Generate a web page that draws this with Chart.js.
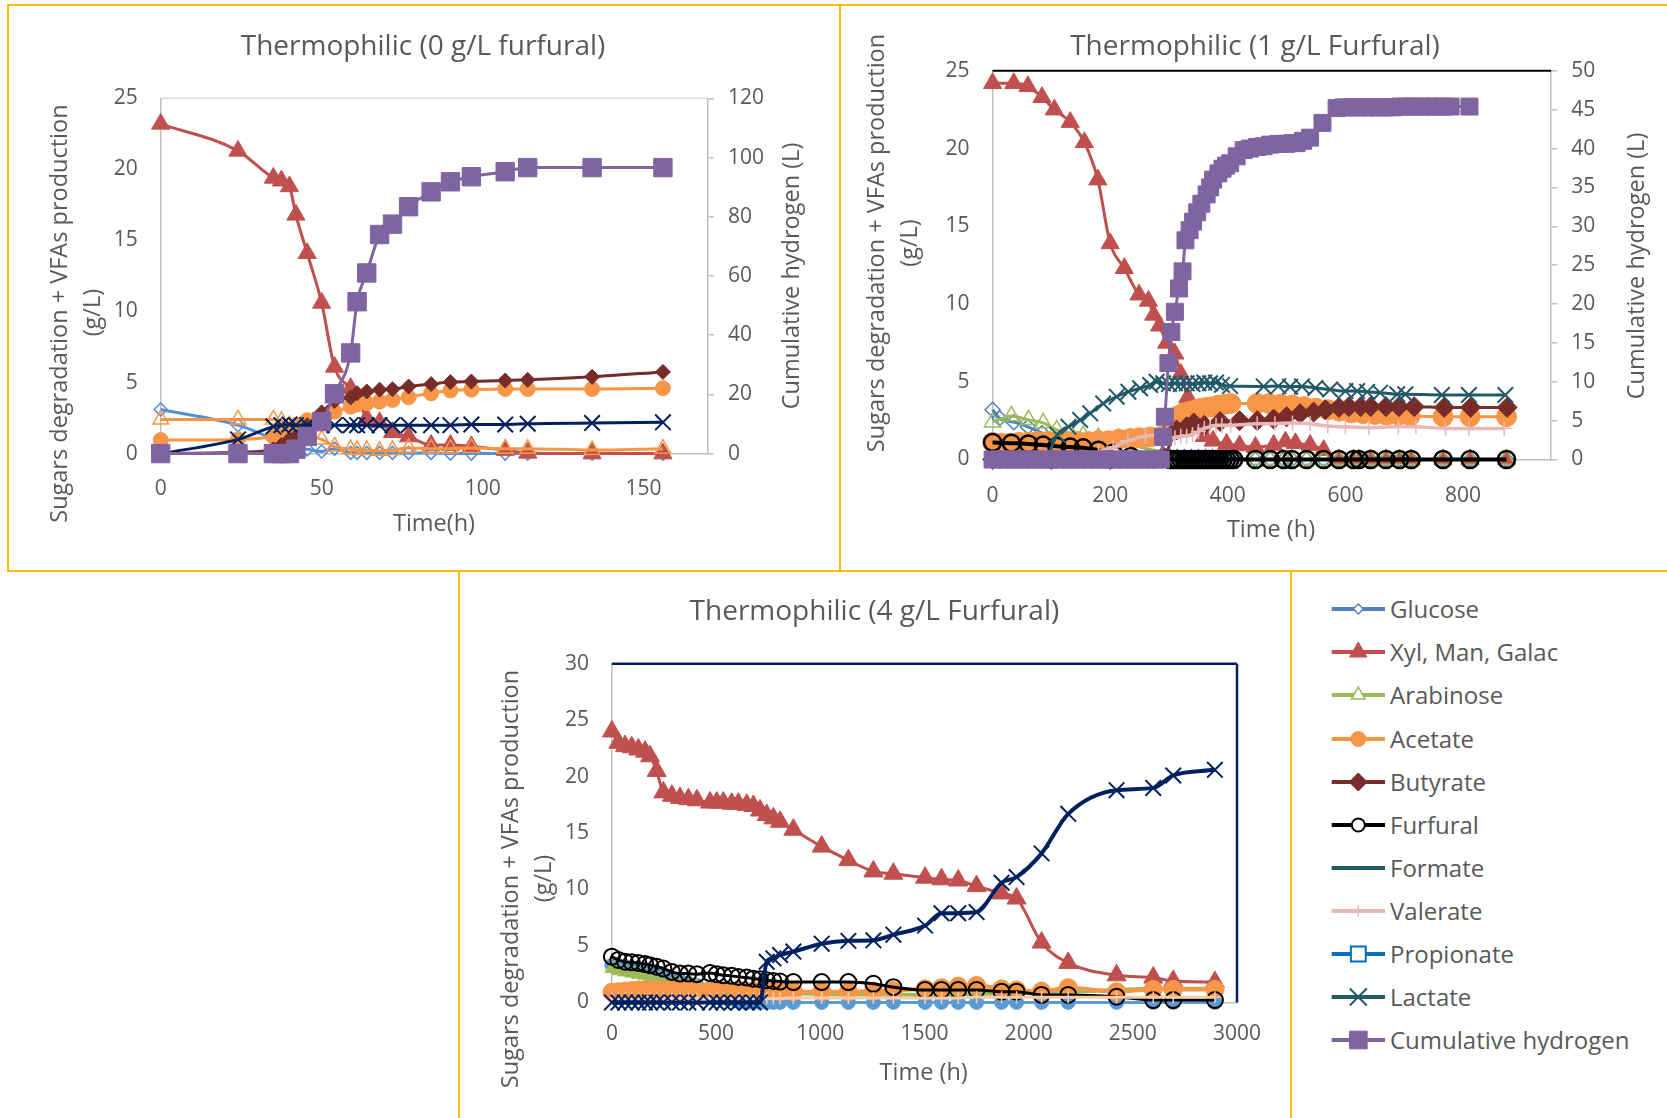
<!DOCTYPE html>
<html>
<head>
<meta charset="utf-8">
<script src="https://cdn.jsdelivr.net/npm/chart.js@4.4.1/dist/chart.umd.min.js"></script>
<style>
  html, body { margin: 0; padding: 0; background: #ffffff; }
  body { width: 1667px; height: 1118px; position: relative; overflow: hidden; font-family: 'Open Sans', sans-serif; }
  .box { position: absolute; border: 2px solid #FFC000; box-sizing: border-box; }
  canvas { position: absolute; }
  .li { position: absolute; left: 1328px; height: 36px; }
  .li canvas { position: absolute; left: 0; top: 0; }
  .li span { position: absolute; left: 62px; top: 0; line-height: 36px; font-size: 24px; color: #595959; white-space: nowrap; }
</style>
</head>
<body>
<div class="box" style="left:7px;top:4px;width:834px;height:568px;"></div>
<div class="box" style="left:839px;top:4px;width:840px;height:568px;"></div>
<div class="box" style="left:458px;top:570px;width:834px;height:560px;"></div>
<div class="box" style="left:1290px;top:570px;width:390px;height:560px;"></div>

<canvas id="c1" width="828" height="563" style="left:10px;top:7px;"></canvas>
<canvas id="c2" width="826" height="563" style="left:841px;top:7px;"></canvas>
<canvas id="c3" width="829" height="545" style="left:461px;top:573px;"></canvas>
<div id="legend"></div>

<script>
// ---------- Thermophilic, 0 g/L furfural ----------
const time1 = [0, 24, 35, 37.5, 40, 42, 45.5, 50, 54, 59, 61, 64, 68, 72, 77, 84, 90, 96.5, 107, 114, 134, 156];
const glucose1 = [3.1, 2.0, 1.0, 0.7, 0.5, 0.4, 0.3, 0.15, 0.35, 0.05, 0.05, 0.05, 0.05, 0.05, 0.05, 0.05, 0, 0, 0, 0, 0, 0];
const xyl1 = [23.2, 21.3, 19.4, 19.2, 18.8, 16.8, 14.1, 10.6, 6.1, 4.6, 4.0, 2.5, 2.2, 1.5, 1.2, 0.6, 0.6, 0.5, 0.25, 0.05, 0, 0];
const arabinose1 = [2.4, 2.4, 2.4, 2.3, 2.0, 1.6, 1.3, 1.0, 0.5, 0.3, 0.25, 0.25, 0.2, 0.25, 0.4, 0.35, 0.35, 0.4, 0.35, 0.35, 0.25, 0.35];
const acetate1 = [0.95, 1.0, 1.2, 1.4, 1.7, 2.0, 2.35, 2.6, 2.95, 3.3, 3.45, 3.55, 3.66, 3.78, 3.97, 4.25, 4.44, 4.5, 4.55, 4.55, 4.55, 4.6];
const butyrate1 = [0, 0.1, 0.3, 0.6, 1.0, 1.2, 2.0, 2.9, 3.7, 3.95, 4.25, 4.37, 4.5, 4.53, 4.72, 4.89, 5.03, 5.07, 5.14, 5.19, 5.4, 5.75];
const lactate1 = [0, 1.0, 1.9, 2.0, 2.05, 2.0, 2.0, 2.0, 2.0, 2.0, 2.0, 2.0, 2.0, 2.0, 2.0, 2.0, 2.0, 2.05, 2.05, 2.1, 2.15, 2.2];
const hydrogen1 = [0, 0, 0, 0, 0, 1.5, 5.8, 10.8, 20.2, 34, 51.3, 61, 74, 77.5, 83.4, 88.4, 91.8, 93.5, 95.2, 96.6, 96.6, 96.6];
const xTicks1 = [0, 50, 100, 150];
const yTicks1 = [0, 5, 10, 15, 20, 25];
const y2Ticks1 = [0, 20, 40, 60, 80, 100, 120];

// ---------- Thermophilic, 1 g/L furfural ----------
const glucoseTime2 = [0, 12, 36, 60, 84, 109, 150, 200, 250, 302, 314, 326, 338, 350, 362, 374, 386, 398, 410, 447, 472, 495, 509, 534, 563, 589, 614, 623, 643, 669, 692, 712, 766, 812, 874];
const glucose2 = [3.2, 2.65, 2.4, 2.1, 1.7, 1.2, 0.5, 0.1, 0, 0.15, 0.15, 0.15, 0.15, 0.15, 0.15, 0.15, 0.15, 0.15, 0.1, 0, 0, 0, 0, 0, 0, 0, 0, 0, 0, 0, 0, 0, 0, 0, 0];
const xylTime2 = [0, 36, 60, 84, 105, 132, 156, 179, 200, 224, 249, 265, 274, 284, 296, 310, 320, 332, 345, 360, 375, 398, 420, 447, 478, 498, 515, 540, 563, 589, 614, 623, 643, 669, 692, 712, 766, 812, 874];
const xyl2 = [24.2, 24.2, 24.0, 23.3, 22.5, 21.7, 20.4, 18.0, 13.9, 12.3, 10.6, 10.2, 9.3, 8.6, 7.5, 6.8, 5.5, 4.0, 2.2, 1.5, 1.2, 1.0, 0.9, 0.8, 0.93, 1.15, 1.04, 0.93, 0.6, 0, 0, 0, 0, 0, 0, 0, 0, 0, 0];
const arabinoseTime2 = [0, 32, 61, 86, 109, 132, 154, 180, 214, 250, 447, 472, 495, 509, 534, 563, 589, 614, 623, 643, 669, 692, 712, 766, 812, 874];
const arabinose2 = [2.4, 2.8, 2.55, 2.35, 1.9, 1.7, 1.55, 1.4, 1.35, 0.8, 0, 0, 0, 0, 0, 0, 0, 0, 0, 0, 0, 0, 0, 0, 0, 0];
const acetateTime2 = [0, 15, 30, 45, 60, 75, 92, 108, 126, 145, 163, 180, 197, 215, 234, 250, 268, 288, 305, 315, 325, 335, 345, 355, 365, 375, 385, 395, 405, 450, 470, 490, 510, 530, 550, 570, 590, 610, 630, 650, 670, 690, 710, 766, 812, 874];
const acetate2 = [1.1, 1.05, 1.05, 1.1, 1.1, 1.15, 1.15, 1.15, 1.15, 1.15, 1.15, 1.2, 1.2, 1.3, 1.35, 1.4, 1.45, 1.5, 2.5, 2.8, 3.0, 3.1, 3.2, 3.3, 3.35, 3.4, 3.5, 3.55, 3.6, 3.6, 3.6, 3.55, 3.5, 3.4, 3.3, 3.2, 3.1, 3.0, 2.95, 2.9, 2.85, 2.85, 2.8, 2.75, 2.75, 2.75];
const butyrateTime2 = [0, 100, 200, 290, 313, 330, 342, 360, 387, 420, 450, 478, 500, 523, 546, 566, 589, 606, 626, 643, 669, 691, 717, 768, 813, 875];
const butyrate2 = [0, 0, 0, 0.2, 1.9, 2.1, 2.35, 2.2, 2.45, 2.5, 2.5, 2.6, 2.75, 2.95, 3.05, 3.2, 3.35, 3.4, 3.4, 3.4, 3.4, 3.4, 3.4, 3.35, 3.35, 3.35];
const furfuralTime2 = [0, 32, 61, 86, 109, 132, 154, 180, 205, 235, 302, 308, 314, 320, 326, 332, 338, 344, 350, 356, 362, 368, 374, 380, 386, 392, 398, 404, 410, 447, 472, 495, 509, 534, 563, 589, 614, 623, 643, 669, 692, 712, 766, 812, 874];
const furfural2 = [1.1, 1.05, 1.0, 0.93, 0.85, 0.8, 0.75, 0.6, 0.4, 0.2, 0, 0, 0, 0, 0, 0, 0, 0, 0, 0, 0, 0, 0, 0, 0, 0, 0, 0, 0, 0, 0, 0, 0, 0, 0, 0, 0, 0, 0, 0, 0, 0, 0, 0, 0];
const valerateTime2 = [180, 205, 230, 260, 290, 300, 310, 320, 330, 340, 350, 360, 370, 380, 390, 405, 450, 480, 510, 540, 570, 600, 640, 690, 720, 770, 810, 870];
const valerate2 = [0.5, 0.8, 1.2, 1.5, 1.6, 1.4, 1.4, 1.5, 1.5, 1.6, 1.8, 2.0, 2.1, 2.2, 2.2, 2.2, 2.3, 2.3, 2.35, 2.3, 2.15, 2.1, 2.05, 2.1, 2.1, 2.0, 2.0, 2.0];
const lactateTime2 = [92, 110, 129, 149, 166, 188, 211, 231, 251, 268, 279, 290, 300, 310, 320, 330, 340, 350, 360, 370, 380, 390, 404, 461, 486, 506, 526, 549, 574, 600, 620, 637, 659, 688, 702, 764, 810, 872];
const lactate2 = [0, 1.6, 2.1, 2.54, 2.97, 3.6, 4.04, 4.36, 4.58, 4.79, 5.0, 4.9, 4.85, 4.9, 4.85, 4.9, 4.85, 4.9, 4.95, 4.9, 4.95, 4.8, 4.72, 4.7, 4.72, 4.68, 4.7, 4.6, 4.5, 4.4, 4.4, 4.35, 4.3, 4.2, 4.2, 4.15, 4.15, 4.15];
const hydrogenTime2 = [0, 12, 24, 36, 48, 60, 72, 84, 96, 108, 120, 132, 144, 156, 168, 180, 192, 204, 216, 228, 240, 252, 264, 276, 286, 290, 293, 299, 304, 310, 317, 323, 328, 335, 341, 348, 355, 364, 370, 375, 384, 391, 397, 404, 415, 427, 438, 450, 461, 472, 486, 499, 510, 517, 528, 540, 561, 585, 597, 609, 621, 633, 645, 657, 669, 681, 693, 705, 717, 729, 741, 753, 765, 779, 811];
const hydrogen2 = [0, 0, 0, 0, 0, 0, 0, 0, 0, 0, 0, 0, 0, 0, 0, 0, 0, 0, 0, 0, 0, 0, 0, 0, 0, 2.9, 5.5, 12.4, 16.4, 19.0, 22, 24.2, 28.2, 29.5, 30.6, 31.8, 32.9, 34.1, 35, 36, 36.8, 37.4, 37.8, 38.1, 39, 39.8, 40, 40.2, 40.3, 40.5, 40.6, 40.6, 40.7, 40.7, 41, 41.4, 43.3, 45.2, 45.3, 45.3, 45.3, 45.3, 45.3, 45.3, 45.3, 45.3, 45.4, 45.4, 45.4, 45.4, 45.4, 45.4, 45.4, 45.4, 45.4];
const xTicks2 = [0, 200, 400, 600, 800];
const yTicks2 = [0, 5, 10, 15, 20, 25];
const y2Ticks2 = [0, 5, 10, 15, 20, 25, 30, 35, 40, 45, 50];

// ---------- Thermophilic, 4 g/L furfural ----------
const time3 = [0, 31, 63, 95, 127, 159, 183, 215, 247, 288, 327, 367, 408, 471, 503, 535, 575, 607, 647, 679, 711, 743, 775, 807, 871, 1007, 1135, 1255, 1351, 1503, 1582, 1662, 1750, 1870, 1942, 2062, 2190, 2422, 2598, 2694, 2894];
const glucose3 = [3.3, 3.15, 3.05, 2.95, 2.85, 2.75, 2.6, 2.45, 2.3, 2.1, 1.9, 1.7, 1.5, 1.2, 0.9, 0.6, 0.3, 0.1, 0, 0, 0, 0, 0, 0, 0, 0, 0, 0, 0, 0, 0, 0, 0, 0, 0, 0, 0, 0, 0, 0, 0];
const xyl3 = [24.0, 23.0, 22.7, 22.6, 22.4, 22.2, 21.8, 20.5, 18.6, 18.3, 18.1, 18.0, 17.9, 17.7, 17.7, 17.7, 17.6, 17.6, 17.5, 17.4, 17.0, 16.6, 16.3, 16.0, 15.3, 13.8, 12.6, 11.6, 11.4, 11.05, 10.9, 10.8, 10.3, 9.65, 9.2, 5.3, 3.5, 2.4, 2.2, 1.9, 1.8];
const arabinose3 = [3.0, 2.8, 2.7, 2.6, 2.5, 2.4, 2.2, 2.0, 1.8, 1.7, 1.6, 1.5, 1.4, 1.3, 1.25, 1.2, 1.15, 1.1, 1.05, 1.0, 0.95, 0.9, 0.9, 0.85, 0.8, 0.75, 0.7, 0.7, 0.7, 0.65, 0.65, 0.7, 0.75, 0.8, 0.85, 0.9, 0.95, 1.1, 1.2, 1.2, 1.2];
const acetate3 = [0.9, 0.95, 1.0, 1.05, 1.1, 1.1, 1.1, 1.1, 1.1, 1.1, 1.1, 1.1, 1.1, 1.05, 1.05, 1.0, 1.0, 1.0, 1.0, 1.0, 1.0, 1.0, 1.0, 0.95, 0.95, 0.95, 0.95, 1.0, 1.05, 1.2, 1.3, 1.45, 1.5, 1.2, 1.1, 1.0, 1.3, 0.95, 1.15, 1.15, 1.15];
const furfural3 = [4.05, 3.76, 3.6, 3.55, 3.5, 3.4, 3.3, 3.16, 3.0, 2.7, 2.55, 2.55, 2.5, 2.6, 2.5, 2.4, 2.35, 2.26, 2.2, 2.1, 2.05, 1.96, 1.9, 1.85, 1.8, 1.8, 1.8, 1.65, 1.35, 1.1, 1.1, 1.1, 1.1, 0.95, 0.95, 0.66, 0.66, 0.5, 0.21, 0.21, 0.21];
const valerate3 = [0.35, 0.35, 0.35, 0.35, 0.35, 0.35, 0.35, 0.35, 0.35, 0.35, 0.35, 0.35, 0.35, 0.35, 0.35, 0.35, 0.35, 0.35, 0.35, 0.35, 0.35, 0.35, 0.35, 0.35, 0.4, 0.4, 0.4, 0.4, 0.4, 0.4, 0.4, 0.4, 0.45, 0.45, 0.45, 0.45, 0.45, 0.45, 0.45, 0.45, 0.45];
const lactate3 = [0, 0, 0, 0, 0, 0, 0, 0, 0, 0, 0, 0, 0, 0, 0, 0, 0, 0, 0, 0, 0, 3.6, 3.9, 4.2, 4.5, 5.2, 5.45, 5.5, 6.0, 6.8, 7.9, 7.9, 8.0, 10.6, 11.1, 13.2, 16.7, 18.8, 19.0, 20.1, 20.6];
const xTicks3 = [0, 500, 1000, 1500, 2000, 2500, 3000];
const yTicks3 = [0, 5, 10, 15, 20, 25, 30];

const seriesNames = ['Glucose', 'Xyl, Man, Galac', 'Arabinose', 'Acetate', 'Butyrate', 'Furfural', 'Formate', 'Valerate', 'Propionate', 'Lactate', 'Cumulative hydrogen'];

// ---------- styles ----------
const FONT = "'Open Sans', sans-serif";
const GREY_TEXT = '#595959';
const AXIS_GREY = '#BFBFBF';
const NONE = 'rgba(255,255,255,0)';
const TICK_SIZE = 21;
const TITLE_SIZE = 28;
const AXIS_TITLE_SIZE = 23.5;

const legendStyle = {
  'Glucose':             { line: '#4F81BD', stroke: '#4F81BD', fill: '#ffffff', shape: 'rectRot', r: 5, bw: 1.5 },
  'Xyl, Man, Galac':     { line: '#C0504D', stroke: '#C0504D', fill: '#C0504D', shape: 'triangle', r: 10, bw: 1 },
  'Arabinose':           { line: '#9BBB59', stroke: '#9BBB59', fill: '#ffffff', shape: 'triangle', r: 8, bw: 1.5 },
  'Acetate':             { line: '#F79646', stroke: '#F79646', fill: '#F79646', shape: 'circle', r: 7.5, bw: 1 },
  'Butyrate':            { line: '#772C2A', stroke: '#772C2A', fill: '#772C2A', shape: 'rectRot', r: 9, bw: 1 },
  'Furfural':            { line: '#000000', stroke: '#000000', fill: '#ffffff', shape: 'circle', r: 6.5, bw: 2 },
  'Formate':             { line: '#215968', stroke: '#215968', fill: '#215968', shape: null, r: 0, bw: 0 },
  'Valerate':            { line: '#E6B9B8', stroke: '#E6B9B8', fill: '#E6B9B8', shape: 'cross', r: 6, bw: 1.5 },
  'Propionate':          { line: '#0070C0', stroke: '#0070C0', fill: '#ffffff', shape: 'rect', r: 10.5, bw: 2 },
  'Lactate':             { line: '#215968', stroke: '#215968', fill: '#215968', shape: 'crossRot', r: 12, bw: 2 },
  'Cumulative hydrogen': { line: '#8064A2', stroke: '#8064A2', fill: '#8064A2', shape: 'rect', r: 12.5, bw: 1 }
};

function pts(times, vals) {
  return times.map((t, i) => ({ x: t, y: vals[i] }));
}

function series(label, times, vals, st, axis) {
  return {
    label: label,
    data: pts(times, vals),
    yAxisID: axis || 'y',
    borderColor: st.line,
    backgroundColor: st.fill,
    borderWidth: st.lw || 3,
    pointStyle: st.shape || false,
    pointRadius: st.shape ? st.r : 0,
    pointHoverRadius: st.shape ? st.r : 0,
    pointBorderColor: st.stroke || st.line,
    pointBackgroundColor: st.fill,
    pointBorderWidth: st.bw,
    cubicInterpolationMode: 'monotone',
    showLine: true,
    fill: false,
    clip: false
  };
}

// layer datasets so that later legend entries sit on top
function layered(list) {
  const n = list.length;
  list.forEach((d, i) => { d.order = n - i; });
  return list;
}

// plot area frame lines (top / right edges)
const framePlugin = {
  id: 'frame',
  afterDatasetsDraw(chart, args, o) {
    const a = chart.chartArea, ctx = chart.ctx;
    ctx.save();
    if (o.top) {
      ctx.strokeStyle = o.top; ctx.lineWidth = o.topWidth || 1.5;
      ctx.beginPath(); ctx.moveTo(a.left, a.top); ctx.lineTo(a.right, a.top); ctx.stroke();
    }
    if (o.right) {
      ctx.strokeStyle = o.right; ctx.lineWidth = o.rightWidth || 1.5;
      ctx.beginPath(); ctx.moveTo(a.right, a.top); ctx.lineTo(a.right, a.bottom); ctx.stroke();
    }
    ctx.restore();
  }
};

// chart title and axis titles
const textPlugin = {
  id: 'panelText',
  afterDraw(chart, args, o) {
    const ctx = chart.ctx;
    (o.items || []).forEach(it => {
      ctx.save();
      ctx.font = it.size + 'px ' + FONT;
      ctx.fillStyle = GREY_TEXT;
      ctx.textAlign = 'center';
      ctx.textBaseline = 'middle';
      ctx.translate(it.x, it.y);
      if (it.rot) ctx.rotate(it.rot * Math.PI / 180);
      ctx.fillText(it.text, 0, 0);
      ctx.restore();
    });
  }
};

function fixedTicks(values) {
  return function (scale) { scale.ticks = values.map(v => ({ value: v })); };
}

const plainLabel = v => String(v);

function xAxis(max, ticks, pad) {
  return {
    type: 'linear', min: 0, max: max,
    afterBuildTicks: fixedTicks(ticks),
    afterFit: s => { s.height = 60; },
    grid: { display: false, drawTicks: false },
    border: { display: true, color: AXIS_GREY, width: 1.5 },
    ticks: { color: GREY_TEXT, font: { size: TICK_SIZE, family: FONT }, padding: pad, maxRotation: 0, autoSkip: false, callback: plainLabel }
  };
}

function yLeft(max, ticks) {
  return {
    type: 'linear', position: 'left', min: 0, max: max,
    afterBuildTicks: fixedTicks(ticks),
    afterFit: s => { s.width = 100; },
    grid: { display: false, drawTicks: false },
    border: { display: true, color: AXIS_GREY, width: 1.5 },
    ticks: { color: GREY_TEXT, font: { size: TICK_SIZE, family: FONT }, padding: 23, callback: plainLabel }
  };
}

function yRight(max, ticks) {
  return {
    type: 'linear', position: 'right', min: 0, max: max,
    afterBuildTicks: fixedTicks(ticks),
    afterFit: s => { s.width = 100; },
    grid: { display: true, drawOnChartArea: false, drawTicks: true, tickLength: 6, color: AXIS_GREY, lineWidth: 1.5 },
    border: { display: true, color: AXIS_GREY, width: 1.5 },
    ticks: { color: GREY_TEXT, font: { size: TICK_SIZE, family: FONT }, padding: 14, callback: plainLabel }
  };
}

function baseOptions(scales, padding, frame, texts) {
  return {
    responsive: false,
    animation: false,
    events: [],
    layout: { padding: padding },
    scales: scales,
    plugins: {
      legend: { display: false },
      title: { display: false },
      tooltip: { enabled: false },
      frame: frame,
      panelText: { items: texts }
    }
  };
}

Chart.register(framePlugin, textPlugin);

const LEFT_TITLE = 'Sugars degradation + VFAs production';
const LEFT_UNIT = '(g/L)';
const RIGHT_TITLE = 'Cumulative hydrogen (L)';

// ---------- chart 1 ----------
const s1 = {
  glucose:   { line: '#558ED5', stroke: '#558ED5', fill: NONE, shape: 'rectRot', r: 6.5, bw: 1.5 },
  xyl:       { line: '#C0504D', stroke: '#C0504D', fill: '#C0504D', shape: 'triangle', r: 10.5, bw: 1 },
  arabinose: { line: '#F79646', stroke: '#F79646', fill: NONE, shape: 'triangle', r: 9, bw: 1.5 },
  acetate:   { line: '#F79646', stroke: '#F79646', fill: '#F79646', shape: 'circle', r: 7.5, bw: 1 },
  butyrate:  { line: '#772C2A', stroke: '#772C2A', fill: '#772C2A', shape: 'rectRot', r: 7.5, bw: 1 },
  lactate:   { line: '#002060', stroke: '#002060', fill: '#002060', shape: 'crossRot', r: 11, bw: 2 },
  hydrogen:  { line: '#8064A2', stroke: '#8064A2', fill: '#8064A2', shape: 'rect', r: 13, bw: 1 }
};
new Chart(document.getElementById('c1'), {
  type: 'line',
  data: { datasets: layered([
    series(seriesNames[0], time1, glucose1, s1.glucose),
    series(seriesNames[1], time1, xyl1, s1.xyl),
    series(seriesNames[2], time1, arabinose1, s1.arabinose),
    series(seriesNames[3], time1, acetate1, s1.acetate),
    series(seriesNames[4], time1, butyrate1, s1.butyrate),
    series(seriesNames[9], time1, lactate1, s1.lactate),
    series(seriesNames[10], time1, hydrogen1, s1.hydrogen, 'y2')
  ]) },
  options: baseOptions(
    { x: xAxis(170, xTicks1, 23), y: yLeft(25, yTicks1), y2: yRight(120, y2Ticks1) },
    { left: 50.7, right: 30, top: 91.3, bottom: 56.4 },
    { top: '#D9D9D9', topWidth: 1.5 },
    [
      { text: 'Thermophilic (0 g/L furfural)', x: 413, y: 40, size: TITLE_SIZE },
      { text: LEFT_TITLE, x: 50, y: 306.6, size: AXIS_TITLE_SIZE, rot: -90 },
      { text: LEFT_UNIT, x: 83, y: 305.6, size: AXIS_TITLE_SIZE, rot: -90 },
      { text: RIGHT_TITLE, x: 782.5, y: 269, size: AXIS_TITLE_SIZE, rot: -90 },
      { text: 'Time(h)', x: 424, y: 517.4, size: AXIS_TITLE_SIZE }
    ]
  )
});

// ---------- chart 2 ----------
const s2 = {
  glucose:   { line: '#4F81BD', stroke: '#4F81BD', fill: NONE, shape: 'rectRot', r: 7.5, bw: 1.5 },
  xyl:       { line: '#C0504D', stroke: '#C0504D', fill: '#C0504D', shape: 'triangle', r: 10.5, bw: 1 },
  arabinose: { line: '#9BBB59', stroke: '#9BBB59', fill: NONE, shape: 'triangle', r: 9.5, bw: 1.5 },
  acetate:   { line: '#F79646', stroke: '#F79646', fill: '#F79646', shape: 'circle', r: 10, bw: 1 },
  butyrate:  { line: '#772C2A', stroke: '#772C2A', fill: '#772C2A', shape: 'rectRot', r: 10, bw: 1 },
  furfural:  { line: '#000000', stroke: '#000000', fill: NONE, shape: 'circle', r: 8.5, bw: 2.5, lw: 4 },
  valerate:  { line: '#E6B9B8', stroke: '#E6B9B8', fill: '#E6B9B8', shape: 'cross', r: 7.5, bw: 1.5, lw: 3.5 },
  lactate:   { line: '#215968', stroke: '#215968', fill: '#215968', shape: 'crossRot', r: 11, bw: 2 },
  hydrogen:  { line: '#8064A2', stroke: '#8064A2', fill: '#8064A2', shape: 'rect', r: 12, bw: 1 }
};
new Chart(document.getElementById('c2'), {
  type: 'line',
  data: { datasets: layered([
    series(seriesNames[0], glucoseTime2, glucose2, s2.glucose),
    series(seriesNames[1], xylTime2, xyl2, s2.xyl),
    series(seriesNames[2], arabinoseTime2, arabinose2, s2.arabinose),
    series(seriesNames[3], acetateTime2, acetate2, s2.acetate),
    series(seriesNames[4], butyrateTime2, butyrate2, s2.butyrate),
    series(seriesNames[5], furfuralTime2, furfural2, s2.furfural),
    series(seriesNames[7], valerateTime2, valerate2, s2.valerate),
    series(seriesNames[9], lactateTime2, lactate2, s2.lactate),
    series(seriesNames[10], hydrogenTime2, hydrogen2, s2.hydrogen, 'y2')
  ]) },
  options: baseOptions(
    { x: xAxis(950, xTicks2, 24), y: yLeft(25, yTicks2), y2: yRight(50, y2Ticks2) },
    { left: 51.6, right: 15.8, top: 63.8, bottom: 50.5 },
    { top: '#000000', topWidth: 2 },
    [
      { text: 'Thermophilic (1 g/L Furfural)', x: 414, y: 40, size: TITLE_SIZE },
      { text: LEFT_TITLE, x: 36, y: 236, size: AXIS_TITLE_SIZE, rot: -90 },
      { text: LEFT_UNIT, x: 69, y: 236, size: AXIS_TITLE_SIZE, rot: -90 },
      { text: RIGHT_TITLE, x: 796, y: 259, size: AXIS_TITLE_SIZE, rot: -90 },
      { text: 'Time (h)', x: 430, y: 522.9, size: AXIS_TITLE_SIZE }
    ]
  )
});

// ---------- chart 3 ----------
const s3 = {
  glucose:   { line: '#5B9BD5', stroke: '#5B9BD5', fill: '#5B9BD5', shape: 'circle', r: 7, bw: 1 },
  xyl:       { line: '#C0504D', stroke: '#C0504D', fill: '#C0504D', shape: 'triangle', r: 11, bw: 1 },
  arabinose: { line: '#9BBB59', stroke: '#9BBB59', fill: '#9BBB59', shape: 'triangle', r: 8, bw: 1, lw: 4 },
  acetate:   { line: '#F79646', stroke: '#F79646', fill: '#F79646', shape: 'circle', r: 9, bw: 1, lw: 4 },
  furfural:  { line: '#000000', stroke: '#000000', fill: NONE, shape: 'circle', r: 8, bw: 2, lw: 3 },
  valerate:  { line: '#F8CBAD', stroke: '#F8CBAD', fill: '#F8CBAD', shape: 'cross', r: 6, bw: 1.5 },
  lactate:   { line: '#002060', stroke: '#002060', fill: '#002060', shape: 'crossRot', r: 11, bw: 2, lw: 4 }
};
new Chart(document.getElementById('c3'), {
  type: 'line',
  data: { datasets: layered([
    series(seriesNames[0], time3, glucose3, s3.glucose),
    series(seriesNames[1], time3, xyl3, s3.xyl),
    series(seriesNames[2], time3, arabinose3, s3.arabinose),
    series(seriesNames[3], time3, acetate3, s3.acetate),
    series(seriesNames[5], time3, furfural3, s3.furfural),
    series(seriesNames[7], time3, valerate3, s3.valerate),
    series(seriesNames[9], time3, lactate3, s3.lactate)
  ]) },
  options: baseOptions(
    { x: xAxis(3000, xTicks3, 19), y: yLeft(30, yTicks3) },
    { left: 50.9, right: 53, top: 90.7, bottom: 55.6 },
    { top: '#002060', topWidth: 2.5, right: '#002060', rightWidth: 2.5 },
    [
      { text: 'Thermophilic (4 g/L Furfural)', x: 413.4, y: 39, size: TITLE_SIZE },
      { text: LEFT_TITLE, x: 50, y: 306, size: AXIS_TITLE_SIZE, rot: -90 },
      { text: LEFT_UNIT, x: 83, y: 305.5, size: AXIS_TITLE_SIZE, rot: -90 },
      { text: 'Time (h)', x: 462.7, y: 500.3, size: AXIS_TITLE_SIZE }
    ]
  )
});

// ---------- shared legend ----------
(function buildLegend() {
  const host = document.getElementById('legend');
  seriesNames.forEach((name, i) => {
    const st = legendStyle[name];
    const row = document.createElement('div');
    row.className = 'li';
    row.style.top = (609.3 + i * 43.07 - 18) + 'px';
    const cv = document.createElement('canvas');
    cv.width = 60; cv.height = 36;
    const label = document.createElement('span');
    label.textContent = name;
    row.appendChild(cv); row.appendChild(label);
    host.appendChild(row);
    const ctx = cv.getContext('2d');
    ctx.strokeStyle = st.line; ctx.lineWidth = 4;
    ctx.beginPath(); ctx.moveTo(3.7, 18); ctx.lineTo(57, 18); ctx.stroke();
    if (st.shape) {
      ctx.fillStyle = st.fill; ctx.strokeStyle = st.stroke; ctx.lineWidth = st.bw;
      Chart.helpers.drawPoint(ctx, { pointStyle: st.shape, radius: st.r, rotation: 0, borderWidth: st.bw }, 30.3, 18);
    }
  });
})();
</script>
</body>
</html>
